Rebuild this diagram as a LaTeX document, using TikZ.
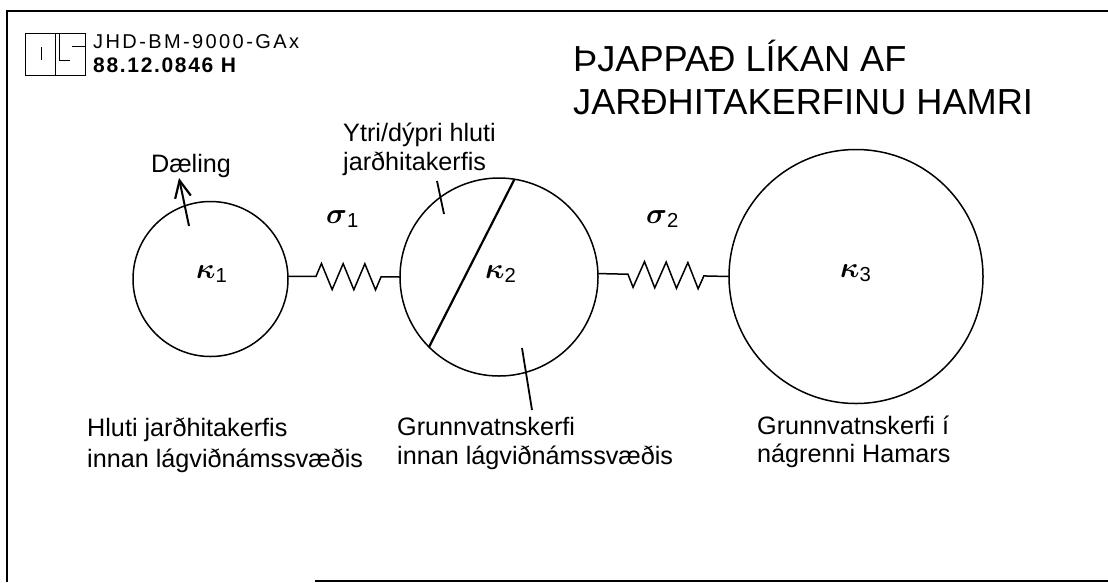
\documentclass[tikz,border=0pt]{standalone}
\usepackage{fontspec}
\usepackage{amsmath,amssymb}
\usepackage{tikz}
\usetikzlibrary{arrows.meta,positioning,decorations.pathmorphing}
\setmainfont{Liberation Sans}
\newcommand{\Coef}[2]{\scalebox{2.9}{$\boldsymbol{#1}_{\mathrm{#2}}$}}

\begin{document}
\begin{tikzpicture}[
  x=1pt, y=-1pt,
  lbl/.style={font=\fontsize{25.2}{29}\selectfont, align=left, inner sep=0pt},
  heading/.style={font=\fontsize{36.2}{43}\selectfont, align=left, inner sep=0pt},
  coef/.style={anchor=base west, inner sep=0pt},
  pool/.style={draw, circle, line width=1.5pt, inner sep=0pt, outer sep=0pt},
  spring/.style={line width=1.5pt, decorate,
                 decoration={zigzag, segment length=21.7pt, amplitude=13pt,
                             pre length=#1, post length=18pt}},
  tick/.style={line width=1.8pt},
  pumpline/.style={line width=2pt, -{Straight Barb[length=17pt, width=16pt, line width=2.2pt]}},
  frameline/.style={line width=2.5pt}
]
  \useasboundingbox (0,0) rectangle (1108,582);

  % frame
  \draw[frameline] (1108,11) -- (7,11) -- (7,582);
  \draw[line width=1.6pt] (315,581) -- (1108,581);

  % stamp
  \node[draw, line width=1pt, minimum width=60pt, minimum height=42pt, inner sep=0pt] (stamp) at (55,54) {};
  \draw[line width=1pt] (55,33) -- (55,75);
  \draw[line width=1pt] (41,47) -- (41,60);
  \draw[line width=1pt] (59,33) -- (59,60) -- (70,60);
  \draw[line width=1pt] (72,46) -- (85,46);
  \node[lbl, font=\fontsize{20}{24}\selectfont\addfontfeatures{LetterSpace=12}, anchor=base west] (jhd) at (93,48) {JHD-BM-9000-GAx};
  \node[lbl, font=\fontsize{21}{24}\selectfont\bfseries\addfontfeatures{LetterSpace=8}, anchor=base west] (nr) at (93,72) {88.12.0846 H};

  \node[heading, anchor=north west] (title) at (573,40) {ÞJAPPAÐ LÍKAN AF\\JARÐHITAKERFINU HAMRI};

  % pools
  \node[pool, minimum size=155pt] (k1) at (210.5,279) {};
  \node[pool, minimum size=198pt, right=112pt of k1, yshift=2pt] (k2) {};
  \node[pool, minimum size=254pt, right=131pt of k2, yshift=0.5pt] (k3) {};

  \node[coef] (kap1) at (196,278) {\Coef{\kappa}{1}};
  \node[coef] (kap2) at (485,278) {\Coef{\kappa}{2}};
  \node[coef] (kap3) at (840,277) {\Coef{\kappa}{3}};

  \draw[spring=28pt] (k1.2) -- (k2.west);
  \draw[spring=30pt, decoration={mirror, post length=22pt}] (k2.2) -- (k3.west);

  \node[coef] (sig1) at (326,223) {\Coef{\sigma}{1}};
  \node[coef] (sig2) at (646,223) {\Coef{\sigma}{2}};

  \draw[line width=2.2pt] (k2.81) -- (k2.225);

  % labels
  \node[lbl] (pump) at (191,166) {Dæling};
  \coordinate (pumpin) at (189,226);
  \coordinate (pumpout) at (179,178);
  \draw[pumpline] (pumpin) -- (pumpout);

  \node[lbl, anchor=south west] (ytri) at (343,176) {Ytri/dýpri hluti\\jarðhitakerfis};
  \draw[tick] (437,181) -- (444,214);
  \draw[tick] (522,348) -- (532,410);

  \node[lbl, anchor=north west] (hluti) at (87,418) {Hluti jarðhitakerfis\\[2pt]innan lágviðnámssvæðis};
  \node[lbl, anchor=north west] (grunn) at (397,417) {Grunnvatnskerfi\\innan lágviðnámssvæðis};
  \node[lbl, anchor=north west] (naer) at (757,416) {Grunnvatnskerfi í\\[-1pt]nágrenni Hamars};
\end{tikzpicture}
\end{document}
